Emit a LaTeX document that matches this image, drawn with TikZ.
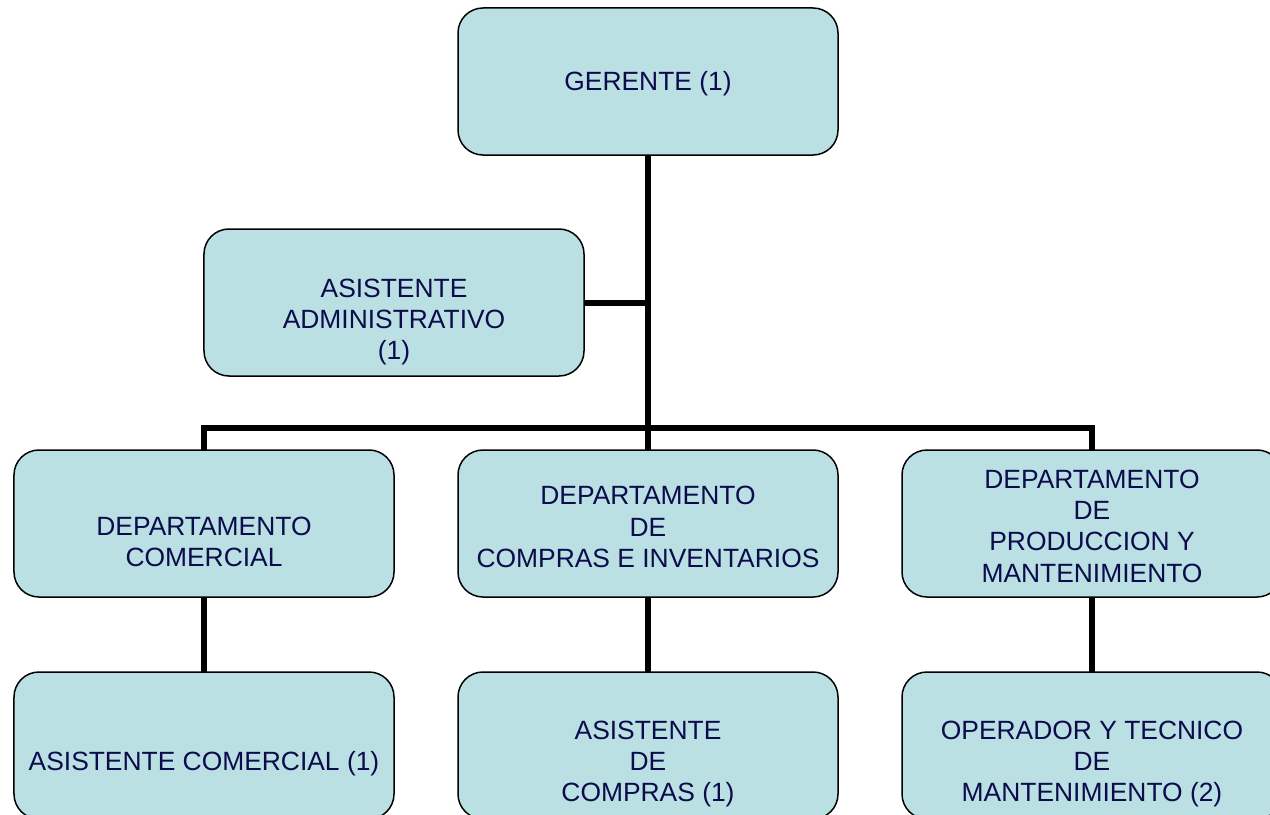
\documentclass[tikz,border=0pt]{standalone}
\usepackage{fontspec}
\setmainfont{Liberation Sans}
\definecolor{boxfill}{HTML}{BBE0E3}
\definecolor{textcol}{HTML}{0C0C4C}
\begin{document}
\begin{tikzpicture}[x=1bp,y=-1bp,
  box/.style={draw=black, line width=1.5bp, fill=boxfill, rounded corners=25bp,
    minimum width=380bp, minimum height=147bp, inner sep=0pt, outer sep=0pt},
  txt/.style={text=textcol, font=\fontsize{26.5}{31.5}\selectfont, align=center, inner sep=0pt},
  conn/.style={draw=black, line width=6bp}]
\clip (0,0) rectangle (1270,815);
\fill[white] (0,0) rectangle (1270,815);
% boxes
\node[box] (ger) at (648,81.5) {};
\node[box] (aa) at (394,302.5) {};
\node[box] (d1) at (204,523.5) {};
\node[box] (d2) at (648,523.5) {};
\node[box] (d3) at (1092,523.5) {};
\node[box] (a1) at (204,745.5) {};
\node[box] (a2) at (648,745.5) {};
\node[box] (a3) at (1092,745.5) {};
% texts
\node[txt] (tger) at (648,84) {GERENTE (1)};
\node[txt] (taa) at (394,322) {ASISTENTE\\ADMINISTRATIVO\\(1)};
\node[txt] (td1) at (204,542) {DEPARTAMENTO\\COMERCIAL};
\node[txt] (td2) at (648,527) {DEPARTAMENTO\\DE\\COMPRAS E INVENTARIOS};
\node[txt] (td3) at (1092,526) {DEPARTAMENTO\\DE\\PRODUCCION Y\\MANTENIMIENTO};
\node[txt] (ta1) at (204,764) {ASISTENTE COMERCIAL (1)};
\node[txt] (ta2) at (648,764) {ASISTENTE\\DE\\COMPRAS (1)};
\node[txt] (ta3) at (1092,764) {OPERADOR Y TECNICO\\DE\\MANTENIMIENTO (2)};
% connectors
\coordinate (bus) at (0,428);
\draw[conn] (ger.south) -- (d2.north);
\draw[conn] (aa.east) -- (aa.east -| ger.south);
\draw[conn] (d1.north) -- (d1.north |- bus) -- (d3.north |- bus) -- (d3.north);
\draw[conn] (d1.south) -- (a1.north);
\draw[conn] (d2.south) -- (a2.north);
\draw[conn] (d3.south) -- (a3.north);
\end{tikzpicture}
\end{document}
